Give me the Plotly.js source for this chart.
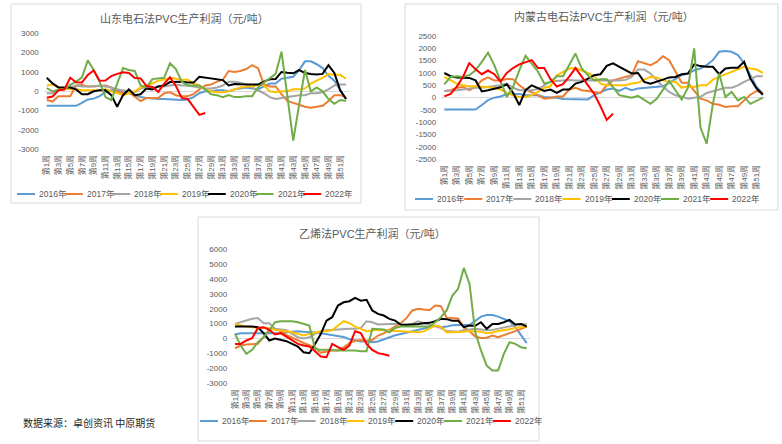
<!DOCTYPE html>
<html><head><meta charset="utf-8">
<script src="https://cdn.plot.ly/plotly-3.0.1.min.js"></script>
<style>html,body{margin:0;padding:0;background:#fff}#chart{width:782px;height:444px}</style>
</head><body><div id="chart"></div>
<script>
// ---- data ----
const weeks = Array.from({length: 52}, (_, i) => '第' + (i + 1) + '周');
const weekTicks = weeks.filter((_, i) => i % 2 === 0);
const years = ['2016年', '2017年', '2018年', '2019年', '2020年', '2021年', '2022年'];
const colors = ['#5B9BD5', '#ED7D31', '#A5A5A5', '#FFC000', '#000000', '#70AD47', '#FF0000'];

// 山东电石法
const sd2016 = [-750,-750,-780,-760,-750,-750,-600,-420,-380,-250,-50,50,100,0,-100,-200,-300,-350,-380,-400,-400,-420,-450,-450,-420,-300,-100,0,0,50,50,0,100,150,200,150,100,250,400,400,650,700,750,1100,1550,1550,1400,1200,800,550,100,-400];
const sd2017 = [-450,-530,-250,-250,-250,300,320,250,250,280,300,200,0,-100,-50,-300,-500,-350,-350,-350,-100,-50,-200,-250,-250,-150,100,300,350,500,600,1050,1000,1050,1150,1350,1200,350,250,250,-150,-500,-600,-700,-800,-850,-800,-750,-500,-200,-200,-300];
const sd2018 = [-100,-100,100,150,200,300,250,250,250,300,250,200,100,50,0,-50,150,200,200,250,250,300,350,300,300,250,200,150,150,200,300,500,500,450,350,200,50,-100,-300,-400,-350,-300,-250,-200,-200,-100,-100,-50,100,300,350,350];
const sd2019 = [300,350,200,150,100,100,50,50,50,50,100,0,-100,-200,-100,0,200,300,400,550,600,700,650,600,600,400,300,100,0,-50,-50,0,100,200,250,250,350,300,0,-50,0,0,100,100,150,400,550,700,900,850,850,650];
const sd2020 = [700,410,200,200,200,100,-150,-150,0,50,50,-200,-800,-200,100,-200,-150,150,100,250,300,480,500,500,450,450,750,700,680,600,580,300,380,360,350,350,350,500,620,640,1000,960,930,1100,950,900,870,900,1350,950,50,-400];
const sd2021 = [170,0,70,100,330,500,720,1600,1100,500,-300,-450,400,1200,1100,1050,300,200,630,650,700,1450,1150,500,300,300,300,100,-150,-200,-300,-200,-300,-300,-250,-250,200,450,700,900,2050,-250,-2550,-700,1100,0,200,0,-400,-650,-450,-500];
const sd2022 = [-330,-270,50,90,700,470,460,850,1080,550,560,790,900,980,950,690,670,270,220,-40,400,720,280,-340,-400,-790,-1220,-1120];

// 内蒙古电石法
const nm2016 = [-480,-480,-480,-480,-480,-480,-300,-100,0,50,150,150,150,100,100,100,30,30,0,-50,-60,-60,-70,-70,100,230,330,370,270,400,300,370,400,410,430,460,600,770,910,980,1110,1180,1320,1520,1860,1890,1860,1730,1390,910,430,160];
const nm2017 = [270,300,400,430,300,430,700,820,700,700,760,750,500,330,220,100,-40,-10,50,50,330,400,300,270,220,190,500,700,770,840,910,1480,1390,1320,1450,1680,1520,1050,600,600,300,-40,-110,-250,-290,-380,-350,-350,-110,120,270,190];
const nm2018 = [270,270,300,330,370,400,400,430,460,500,570,400,300,300,300,350,500,650,680,700,720,700,690,700,710,700,690,700,700,720,840,1140,1140,980,700,450,230,100,50,-40,0,30,190,270,330,400,400,500,640,770,870,870];
const nm2019 = [840,700,570,500,460,460,430,430,400,330,190,100,30,30,100,230,400,460,910,1050,1180,1200,1110,1000,870,570,500,500,500,500,570,600,730,840,820,700,640,640,400,460,430,500,500,730,840,950,1050,1140,1250,1180,1140,1000];
const nm2020 = [1000,870,820,820,800,700,250,300,350,420,540,200,-300,300,500,370,270,330,190,330,330,570,640,770,910,950,1290,1390,1250,1110,980,1000,640,570,640,730,820,840,950,980,1350,1280,1250,1250,950,1180,1210,1210,1450,770,370,120];
const nm2021 = [540,840,870,840,910,1110,1450,1820,1320,700,30,430,1110,1700,1390,1050,570,640,870,870,1320,1790,1180,910,700,750,750,430,100,50,0,70,-100,-250,-50,300,680,300,-80,400,2000,-1200,-1870,-240,980,30,230,-110,30,-250,-110,0];
const nm2022 = [50,150,450,850,1400,1150,950,1100,950,650,1000,1200,1350,1450,1520,1200,1200,750,450,550,850,1200,850,450,150,-350,-900,-650];

// 乙烯法
const yx2016 = [270,360,360,360,360,360,360,310,360,420,470,490,450,450,400,350,300,250,200,100,-50,-150,-200,-200,-250,-200,-50,100,220,310,400,540,620,710,800,850,760,800,890,920,900,900,1160,1470,1580,1580,1470,1300,1160,760,200,-310];
const yx2017 = [-650,-470,-400,-400,-350,100,600,650,500,250,50,-100,-300,-450,-600,-950,-850,-800,-800,-600,-300,-150,-100,-150,-100,200,350,580,760,1030,1380,1880,1990,1940,1900,2210,2170,1400,1350,1350,760,490,130,40,50,200,90,250,360,500,650,800];
const yx2018 = [980,1090,1250,1320,1380,1030,1030,650,600,550,310,90,0,90,310,490,550,580,580,650,650,650,700,1160,1090,940,980,980,980,980,980,980,1160,1050,900,800,700,500,450,450,550,600,650,600,550,580,650,700,800,890,980,950];
const yx2019 = [980,870,800,750,710,710,710,580,540,490,420,310,200,310,420,490,490,550,870,1160,1030,800,650,490,540,580,560,540,490,490,490,450,420,480,690,870,800,420,420,420,450,500,500,450,360,400,500,550,620,700,760,800];
const yx2020 = [800,780,800,800,760,360,-130,0,-100,-180,-360,-540,-920,-980,-360,300,1200,1430,2210,2430,2500,2720,2540,2590,1880,1650,1540,1320,1200,920,900,920,980,1030,1050,1160,1320,1300,1200,1200,760,870,850,1090,650,980,980,1090,1250,940,980,800];
const yx2021 = [310,-470,-1030,-760,-250,90,540,1090,1160,1160,1160,1090,980,870,-690,-760,-760,-800,-800,-800,-780,-800,-850,-850,650,650,600,420,710,800,800,800,800,800,800,1090,1430,1880,2880,3330,4730,3660,420,-800,-1810,-2140,-2140,-1030,-250,-360,-580,-650];
const yx2022 = [-360,-360,-130,20,710,760,580,270,360,130,-130,-360,-470,-540,-850,-1200,-1250,-360,-580,-760,-470,490,360,-360,-760,-980,-1050,-1150];

const yTicks1 = [-3000,-2000,-1000,0,1000,2000,3000];
const yTicks2 = [-2500,-2000,-1500,-1000,-500,0,500,1000,1500,2000,2500];
const yTicks3 = [-3000,-2000,-1000,0,1000,2000,3000,4000,5000,6000];

const titles = ['山东电石法PVC生产利润（元/吨）', '内蒙古电石法PVC生产利润（元/吨）', '乙烯法PVC生产利润（元/吨）'];
const sourceText = '数据来源：卓创资讯 中原期货';

// ---- layout config (page pixels) ----
const W = 782, H = 444;
const px = x => x / W, py = y => 1 - y / H;
const panels = [
  {series: [sd2016, sd2017, sd2018, sd2019, sd2020, sd2021, sd2022], yt: yTicks1, range: [-3000, 3000],
   dom: [43.8, 349.0, 33.3, 149.3], box: [11, 4, 361, 203], titleXY: [184, 18], leg: [37, 47.7, 194]},
  {series: [nm2016, nm2017, nm2018, nm2019, nm2020, nm2021, nm2022], yt: yTicks2, range: [-2500, 2500],
   dom: [441.2, 766.0, 36.0, 159.3], box: [405, 4, 778, 210], titleXY: [604, 17], leg: [435, 49.2, 199]},
  {series: [yx2016, yx2017, yx2018, yx2019, yx2020, yx2021, yx2022], yt: yTicks3, range: [-3000, 6000],
   dom: [232.1, 529.6, 249.0, 383.3], box: [198, 217, 539, 441], titleXY: [372, 233], leg: [220, 48.8, 421]}
];

const tickFont = {family: 'Liberation Sans, Noto Sans CJK SC, sans-serif', size: 8, color: '#595959'};
const traces = [];
const layout = {
  width: W, height: H, margin: {l: 0, r: 0, t: 0, b: 0},
  paper_bgcolor: '#ffffff', plot_bgcolor: '#ffffff', showlegend: false,
  shapes: [], annotations: []
};

panels.forEach((p, k) => {
  const sfx = k === 0 ? '' : String(k + 1);
  p.series.forEach((vals, j) => {
    traces.push({
      type: 'scatter', mode: 'lines', name: years[j],
      x: weeks.slice(0, vals.length), y: vals,
      xaxis: 'x' + sfx, yaxis: 'y' + sfx,
      line: {color: colors[j], width: 2}, hoverinfo: 'skip'
    });
  });
  layout['xaxis' + sfx] = {
    domain: [px(p.dom[0]), px(p.dom[1])], anchor: 'y' + sfx,
    type: 'category', categoryorder: 'array', categoryarray: weeks, range: [-0.5, 51.5],
    tickmode: 'array', tickvals: weekTicks, ticktext: weekTicks, tickangle: -90,
    showgrid: false, zeroline: false, showline: false, ticks: '', ticklabelstandoff: 3,
    tickfont: tickFont, fixedrange: true
  };
  layout['yaxis' + sfx] = {
    domain: [py(p.dom[3]), py(p.dom[2])], anchor: 'x' + sfx,
    range: p.range, tickmode: 'array', tickvals: p.yt, ticktext: p.yt.map(String),
    showgrid: false, zeroline: true, zerolinecolor: '#d9d9d9', zerolinewidth: 1,
    showline: false, ticks: '', ticklabelstandoff: 4, tickfont: tickFont, fixedrange: true
  };
  layout.shapes.push({type: 'rect', xref: 'paper', yref: 'paper', layer: 'below',
    x0: px(p.box[0]), x1: px(p.box[2]), y0: py(p.box[3]), y1: py(p.box[1]),
    line: {color: '#d9d9d9', width: 1}, fillcolor: 'rgba(0,0,0,0)'});
  layout.annotations.push({xref: 'paper', yref: 'paper', x: px(p.titleXY[0]), y: py(p.titleXY[1]),
    xanchor: 'center', yanchor: 'middle', showarrow: false, text: titles[k],
    font: {family: 'Liberation Sans, Noto Sans CJK SC, sans-serif', size: 11, color: '#595959'}});
  // legend
  years.forEach((yr, j) => {
    const tx = p.leg[0] + j * p.leg[1];
    layout.shapes.push({type: 'line', xref: 'paper', yref: 'paper',
      x0: px(tx - 20), x1: px(tx - 2), y0: py(p.leg[2]), y1: py(p.leg[2]),
      line: {color: colors[j], width: 2}});
    layout.annotations.push({xref: 'paper', yref: 'paper', x: px(tx), y: py(p.leg[2]),
      xanchor: 'left', yanchor: 'middle', showarrow: false, text: yr,
      font: {family: 'Liberation Sans, Noto Sans CJK SC, sans-serif', size: 8.5, color: '#595959'}});
  });
});

layout.annotations.push({xref: 'paper', yref: 'paper', x: px(21), y: py(422),
  xanchor: 'left', yanchor: 'middle', showarrow: false, text: sourceText,
  font: {family: 'Noto Sans CJK SC, sans-serif', size: 10, color: '#262626'}});

Plotly.newPlot('chart', traces, layout, {displayModeBar: false, staticPlot: true});
</script>
</body></html>
